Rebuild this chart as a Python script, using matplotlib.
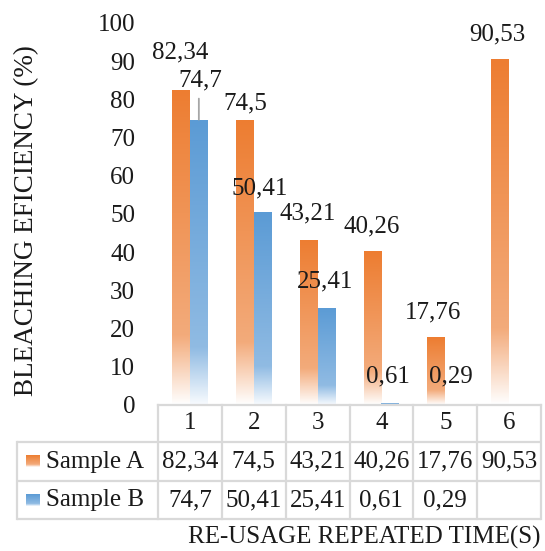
import numpy as np
import matplotlib
matplotlib.use("Agg")
import matplotlib.pyplot as plt
from matplotlib.colors import LinearSegmentedColormap

plt.rcParams["font.family"] = ["Liberation Serif", "DejaVu Serif"]

categories = ["1", "2", "3", "4", "5", "6"]
series_names = ["Sample A", "Sample B"]
sample_a = [82.34, 74.5, 43.21, 40.26, 17.76, 90.53]
sample_b = [74.7, 50.41, 25.41, 0.61, 0.29, np.nan]
y_ticks = [0, 10, 20, 30, 40, 50, 60, 70, 80, 90, 100]

# data label offsets (pixels, label centre relative to bar top)
label_offsets_a = [(-1, 38), (0, 17), (-1, 26), (-1, 25), (-3, 25), (-3, 25)]
label_offsets_b = [(1, 39), (-3, 24), (-1, 26), (-2, 26), (-3, 27), (0, 0)]

orange_cmap = LinearSegmentedColormap.from_list(
    "og", [(0.0, "#ED7D31"), (0.78, "#F3AB7B"), (1.0, "#FFFFFF")])
blue_cmap = LinearSegmentedColormap.from_list(
    "bg", [(0.0, "#5B9BD5"), (0.80, "#90BBE3"), (1.0, "#F8FBFE")])

text_color = "#1a1a1a"
grid_color = "#D9D9D9"
fs = 18


def fmt(v):
    return str(v).replace(".", ",")


fig = plt.figure(figsize=(5.45, 5.51), dpi=100)
ax = fig.add_axes([0.2899, 0.2650, 0.7028, 0.6933])

x = np.arange(1, len(categories) + 1)
width = 0.28
grad = np.linspace(0, 1, 256).reshape(-1, 1)

for vals, offs, cmap, shift in [(sample_a, label_offsets_a, orange_cmap, -width / 2),
                                (sample_b, label_offsets_b, blue_cmap, width / 2)]:
    bars = ax.bar(x + shift, np.nan_to_num(vals), width, color="none", edgecolor="none")
    for bar, v, off in zip(bars, vals, offs):
        if np.isnan(v):
            continue
        x0, w, h = bar.get_x(), bar.get_width(), bar.get_height()
        im = ax.imshow(grad, cmap=cmap, aspect="auto", extent=[x0, x0 + w, 0, h],
                       origin="upper", zorder=2)
        im.set_clip_path(bar)
        ax.annotate(fmt(v), xy=(x0 + w / 2, h), xytext=off, textcoords="offset pixels",
                    ha="center", va="center", fontsize=fs, color=text_color, zorder=4)

# leader line for the first Sample B label
b0 = x[0] + width / 2
ax.annotate("", xy=(b0, sample_b[0]), xytext=(0, 21), textcoords="offset pixels",
            arrowprops=dict(arrowstyle="-", color="#A6A6A6", lw=1.3,
                            shrinkA=0, shrinkB=0), zorder=3)

ax.set_yticks(y_ticks)
ax.set_yticklabels([str(t) for t in y_ticks], fontsize=fs, color=text_color)
ax.tick_params(axis="y", length=0, pad=16.5)
ax.set_xticks([])
for s in ax.spines.values():
    s.set_visible(False)

# data table below the plot
tr = ax.get_xaxis_transform()
row_edges = [0.0, -0.0969, -0.199, -0.2984]
left = -0.368
lw = 1.6
ax.plot([0.5, 6.5], [row_edges[0]] * 2, transform=tr, color=grid_color, lw=lw, clip_on=False)
for yy in row_edges[1:]:
    ax.plot([left, 1.0], [yy, yy], transform=ax.transAxes, color=grid_color, lw=lw,
            clip_on=False, solid_capstyle="butt")
for xx in np.arange(0.5, len(categories) + 1.0, 1.0):
    ax.plot([xx, xx], [row_edges[0], row_edges[-1]], transform=tr, color=grid_color,
            lw=lw, clip_on=False)
ax.plot([left, left], [row_edges[1], row_edges[-1]], transform=ax.transAxes,
        color=grid_color, lw=lw, clip_on=False)

# header row
for xi, c in zip(x, categories):
    ax.text(xi, (row_edges[0] + row_edges[1]) / 2, c, transform=tr, ha="center",
            va="center", fontsize=fs, color=text_color)

# series rows with legend keys
for r, (name, vals, cmap) in enumerate([(series_names[0], sample_a, orange_cmap),
                                        (series_names[1], sample_b, blue_cmap)]):
    yc = (row_edges[r + 1] + row_edges[r + 2]) / 2
    for xi, v in zip(x, vals):
        if not np.isnan(v):
            ax.text(xi, yc, fmt(v), transform=tr, ha="center", va="center",
                    fontsize=fs, color=text_color)
    key_h = 0.031
    ax.imshow(grad, cmap=cmap, aspect="auto", transform=ax.transAxes,
              extent=[-0.345, -0.309, yc - key_h / 2, yc + key_h / 2],
              origin="upper", clip_on=False)
    ax.text(-0.293, yc, name, transform=ax.transAxes, ha="left", va="center",
            fontsize=fs, color=text_color)

ax.set_xlim(0.5, len(categories) + 0.5)
ax.set_ylim(0, 100)

fig.text(364 / 545, 1 - 537 / 551, "RE-USAGE REPEATED TIME(S)", ha="center", va="center",
         fontsize=fs, color=text_color)
fig.text(27 / 545, 1 - 221 / 551, "BLEACHING EFICIENCY (%)", ha="center", va="center",
         rotation=90, fontsize=19.5, color=text_color)

fig.savefig("out.png", dpi=100)
